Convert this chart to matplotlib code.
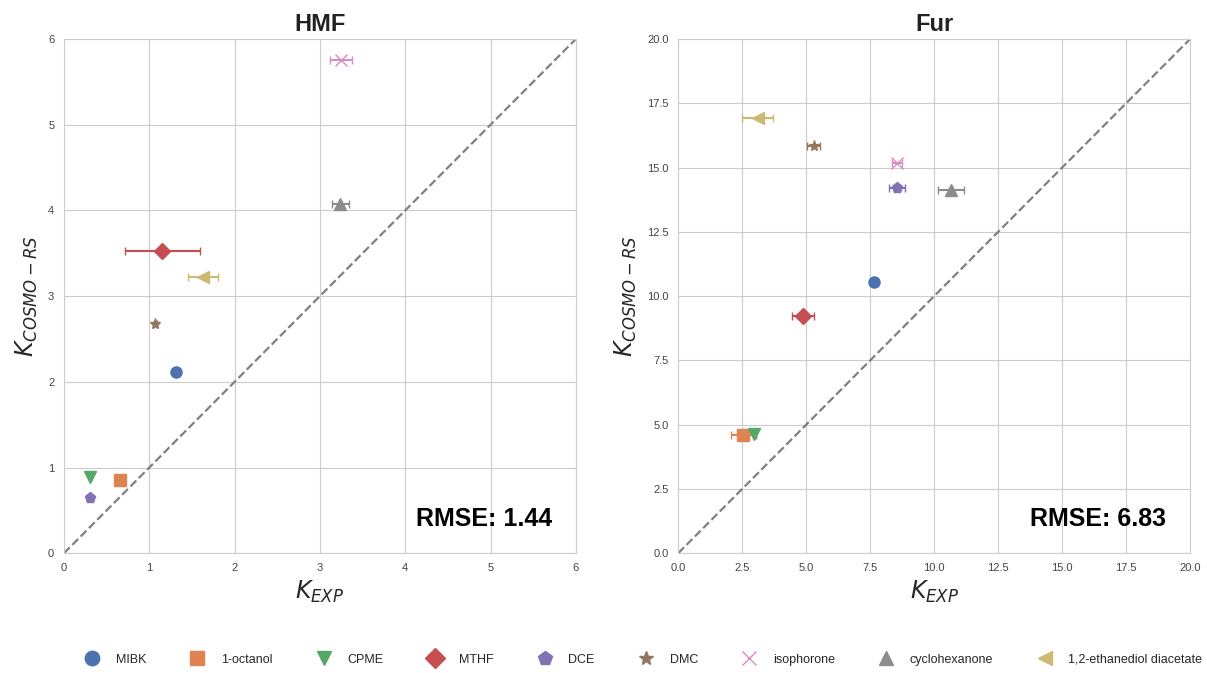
import matplotlib
matplotlib.use("Agg")
import matplotlib.pyplot as plt
import seaborn as sns

sns.set_style("whitegrid")
plt.rcParams['font.family'] = ['Liberation Sans', 'DejaVu Sans']

# ------------dane--------------------
solvents = ["MIBK", "1-octanol", "CPME", "MTHF", "DCE", "DMC",
            "isophorone", "cyclohexanone", "1,2-ethanediol diacetate"]
markers = ["o", "s", "v", "D", "p", "*", "x", "^", "<"]

hmf_exp = [1.31, 0.66, 0.30, 1.15, 0.30, 1.07, 3.25, 3.24, 1.63]
hmf_exp_err = [0.02, 0.06, 0.01, 0.44, 0.01, 0.02, 0.13, 0.10, 0.18]
hmf_cosmo = [2.12, 0.85, 0.89, 3.53, 0.64, 2.67, 5.75, 4.07, 3.22]

fur_exp = [7.65, 2.55, 2.98, 4.86, 8.55, 5.30, 8.55, 10.65, 3.10]
fur_exp_err = [0.05, 0.50, 0.05, 0.43, 0.33, 0.25, 0.18, 0.50, 0.60]
fur_cosmo = [10.54, 4.60, 4.63, 9.22, 14.20, 15.84, 15.17, 14.12, 16.93]

rmse = {"HMF": 1.44, "Fur": 6.83}
panels = [("HMF", hmf_exp, hmf_exp_err, hmf_cosmo, 6, [0, 1, 2, 3, 4, 5, 6]),
          ("Fur", fur_exp, fur_exp_err, fur_cosmo, 20,
           [0, 2.5, 5, 7.5, 10, 12.5, 15, 17.5, 20])]

colors = sns.color_palette("deep", len(solvents))

fig, axes = plt.subplots(1, 2, figsize=(12.07, 6.73), dpi=100)
fig.subplots_adjust(left=0.053, right=0.986, top=0.942, bottom=0.178, wspace=0.2)

for ax, (name, kx, kx_err, ky, lim, ticks) in zip(axes, panels):
    for i, solv in enumerate(solvents):
        ax.errorbar(kx[i], ky[i], xerr=kx_err[i], fmt=markers[i], color=colors[i],
                    markersize=8, capsize=3, elinewidth=1.5, label=solv)
    ax.plot([0, lim], [0, lim], "--", color="grey", linewidth=1.6)
    ax.set_xlim(0, lim)
    ax.set_ylim(0, lim)
    ax.set_xticks(ticks)
    ax.set_yticks(ticks)
    if lim == 20:
        ax.set_xticklabels([f"{t:.1f}" for t in ticks])
        ax.set_yticklabels([f"{t:.1f}" for t in ticks])
    ax.tick_params(labelsize=8, colors="#444444")
    ax.set_title(name, fontsize=17, fontweight="bold", color="#222222")
    ax.set_xlabel("$K_{EXP}$", fontsize=17, labelpad=4)
    ax.set_ylabel("$K_{COSMO-RS}$", fontsize=17, labelpad=6)
    ax.text(0.953, 0.043, f"RMSE: {rmse[name]:.2f}", transform=ax.transAxes,
            ha="right", va="bottom", fontsize=18, fontweight="bold", color="black")

handles, labels = axes[0].get_legend_handles_labels()
handles = [h[0] for h in handles]
fig.legend(handles, labels, loc="lower center", ncol=9, frameon=False,
           fontsize=9, markerscale=1.3, bbox_to_anchor=(0.531, -0.006),
           handletextpad=0.9, columnspacing=3.1)

plt.savefig("out.png", dpi=100)
